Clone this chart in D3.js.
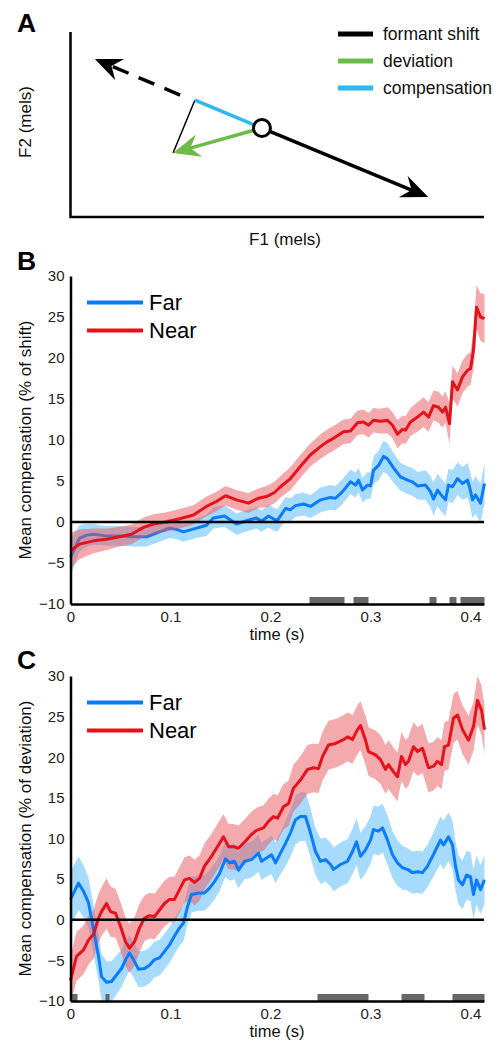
<!DOCTYPE html>
<html>
<head>
<meta charset="utf-8">
<script src="https://cdn.jsdelivr.net/npm/d3@7"></script>
<style>
  body { margin: 0; background: #fff; }
  svg { display: block; font-family: "Liberation Sans", Arial, sans-serif; }
</style>
</head>
<body>
<div id="chart"></div>
<script>
// ---- data ----
// panel A schematic points (F1, F2 in arbitrary mel units)
var vowelCenter = [46.3, 48.1];
var shiftTip = [86.5, 10.8];
var oppositeStart = [26.5, 65.9];
var oppositeTip = [5.9, 85.4];
var compEnd = [30.1, 63.2];
var devTip = [24.8, 34.6];
var legendA = ["formant shift", "deviation", "compensation"];

// [time (s), mean (%), sem]
var farB = [[0.000,-4.3,2.3],[0.005,-3.0,1.9],[0.009,-2.0,1.6],[0.016,-1.6,1.4],[0.023,-1.5,1.3],[0.030,-1.6,1.2],[0.036,-1.7,1.2],[0.049,-1.7,1.2],[0.063,-1.8,1.2],[0.076,-1.8,1.2],[0.089,-1.2,1.2],[0.099,-0.75,1.2],[0.106,-0.9,1.2],[0.113,-1.2,1.2],[0.126,-0.75,1.2],[0.136,-0.4,1.3],[0.143,0.5,1.3],[0.154,0.73,1.3],[0.166,-0.25,1.3],[0.176,0.15,1.3],[0.186,0.5,1.3],[0.191,0.1,1.3],[0.198,0.73,1.4],[0.204,0.3,1.4],[0.207,0.2,1.4],[0.215,1.65,1.4],[0.220,1.5,1.4],[0.225,2.0,1.4],[0.233,2.2,1.4],[0.240,1.9,1.4],[0.250,2.7,1.5],[0.260,3.0,1.5],[0.265,2.9,1.5],[0.272,3.7,1.5],[0.280,4.9,1.5],[0.285,4.5,1.5],[0.288,5.1,1.5],[0.292,3.9,1.5],[0.297,4.5,1.6],[0.300,4.4,1.6],[0.303,6.3,1.7],[0.308,6.9,1.8],[0.313,8.0,1.9],[0.317,7.7,1.9],[0.323,6.6,1.8],[0.330,5.5,1.7],[0.337,5.1,1.7],[0.342,4.9,1.7],[0.347,4.4,1.7],[0.355,4.5,1.8],[0.360,3.7,1.9],[0.363,2.8,2.0],[0.367,3.9,2.0],[0.370,3.4,2.0],[0.375,2.7,2.0],[0.378,4.5,2.0],[0.382,4.3,2.0],[0.387,5.3,2.0],[0.392,4.7,2.0],[0.397,5.1,2.1],[0.399,4.3,2.1],[0.402,2.7,2.2],[0.405,3.3,2.3],[0.410,2.3,2.4],[0.414,4.7,2.5]];
var nearB = [[0.000,-3.5,2.2],[0.009,-2.7,1.8],[0.023,-2.3,1.5],[0.036,-2.1,1.3],[0.049,-1.8,1.2],[0.061,-1.5,1.2],[0.073,-0.65,1.2],[0.083,-0.25,1.2],[0.096,0.0,1.2],[0.109,0.4,1.2],[0.123,0.85,1.2],[0.136,1.9,1.2],[0.146,2.5,1.2],[0.155,3.2,1.2],[0.166,2.7,1.2],[0.178,2.3,1.2],[0.188,2.9,1.2],[0.196,3.1,1.3],[0.204,3.6,1.3],[0.210,4.3,1.3],[0.220,5.3,1.4],[0.230,6.8,1.4],[0.240,8.2,1.4],[0.250,9.2,1.5],[0.257,9.8,1.5],[0.263,10.2,1.5],[0.273,11.0,1.5],[0.280,11.1,1.5],[0.287,12.1,1.5],[0.293,12.2,1.5],[0.298,11.8,1.5],[0.303,12.4,1.5],[0.310,12.3,1.5],[0.317,12.4,1.6],[0.322,11.8,1.6],[0.327,10.7,1.7],[0.332,11.3,1.7],[0.335,11.2,1.7],[0.340,12.2,1.7],[0.347,12.8,1.8],[0.353,13.4,1.8],[0.358,12.8,1.8],[0.363,14.2,1.8],[0.368,14.0,1.9],[0.372,13.4,1.9],[0.375,14.0,1.9],[0.379,12.0,2.5],[0.382,17.1,2.0],[0.387,16.1,2.0],[0.392,17.7,2.0],[0.397,18.5,2.0],[0.400,18.7,2.0],[0.403,21.0,2.3],[0.406,26.2,2.7],[0.410,25.0,2.9],[0.414,24.8,3.0]];
var farC = [[0.000,2.5,3.4],[0.008,4.5,3.3],[0.013,3.5,3.2],[0.018,2.1,3.1],[0.023,-1.2,3.0],[0.028,-4.5,2.9],[0.031,-7.0,2.8],[0.036,-7.7,2.6],[0.041,-7.6,2.5],[0.046,-6.8,2.4],[0.051,-6.0,2.3],[0.056,-4.7,2.2],[0.059,-4.1,2.2],[0.063,-4.9,2.2],[0.068,-6.1,2.2],[0.074,-6.0,2.2],[0.079,-5.6,2.2],[0.084,-4.9,2.2],[0.089,-4.7,2.2],[0.094,-3.9,2.2],[0.099,-3.1,2.2],[0.104,-2.0,2.2],[0.109,-1.0,2.2],[0.113,-0.4,2.2],[0.117,1.6,2.2],[0.121,3.1,2.2],[0.128,3.3,2.2],[0.134,3.3,2.2],[0.139,3.9,2.2],[0.144,4.7,2.2],[0.149,5.7,2.2],[0.155,7.5,2.2],[0.159,7.0,2.2],[0.164,7.2,2.2],[0.168,6.1,2.2],[0.174,7.2,2.2],[0.181,7.4,2.2],[0.188,8.2,2.3],[0.191,7.2,2.3],[0.196,7.6,2.3],[0.201,8.0,2.4],[0.205,7.0,2.5],[0.210,8.2,2.6],[0.215,9.4,2.8],[0.220,10.7,2.9],[0.225,12.3,3.0],[0.230,12.7,3.0],[0.235,12.7,3.0],[0.240,10.7,3.0],[0.245,8.4,2.9],[0.250,7.2,2.8],[0.255,7.4,2.7],[0.260,6.8,2.7],[0.263,6.2,2.7],[0.270,6.8,2.7],[0.277,7.2,2.7],[0.282,8.4,2.8],[0.286,9.6,2.9],[0.290,7.8,2.9],[0.295,8.6,2.9],[0.300,9.8,2.9],[0.303,11.1,3.0],[0.308,10.9,3.0],[0.312,11.3,3.0],[0.317,9.8,3.0],[0.322,8.0,2.9],[0.327,7.0,2.8],[0.332,6.4,2.7],[0.337,6.2,2.6],[0.342,5.8,2.6],[0.347,5.9,2.6],[0.352,5.8,2.6],[0.357,6.6,2.6],[0.362,7.8,2.7],[0.366,8.8,2.8],[0.370,9.8,2.9],[0.373,9.2,3.0],[0.378,10.2,3.0],[0.382,9.2,3.0],[0.385,6.6,3.0],[0.388,4.9,3.0],[0.392,4.3,3.0],[0.396,5.5,3.0],[0.400,5.3,3.0],[0.403,3.1,3.0],[0.406,4.9,3.0],[0.410,3.7,3.0],[0.414,4.9,3.0]];
var nearC = [[0.000,-7.5,3.0],[0.006,-4.5,3.0],[0.013,-3.7,3.0],[0.018,-2.5,3.0],[0.023,-1.8,3.0],[0.028,0.2,3.0],[0.031,1.0,3.0],[0.036,2.0,3.1],[0.040,1.0,3.1],[0.045,0.8,3.0],[0.050,-0.8,3.0],[0.055,-2.7,3.0],[0.059,-3.5,3.0],[0.064,-2.7,3.0],[0.069,-1.0,3.0],[0.074,0.2,2.8],[0.079,0.5,2.8],[0.084,0.4,2.8],[0.089,1.2,2.8],[0.094,2.0,2.8],[0.099,2.5,2.8],[0.104,2.5,2.8],[0.109,3.7,2.8],[0.114,4.9,2.8],[0.119,5.1,2.8],[0.124,4.6,2.8],[0.129,5.1,2.8],[0.134,6.6,2.8],[0.141,7.8,2.8],[0.146,8.8,2.8],[0.153,10.2,2.8],[0.158,9.0,2.8],[0.163,9.0,2.8],[0.168,8.8,2.8],[0.175,9.7,2.8],[0.181,10.5,2.8],[0.186,11.0,2.8],[0.193,11.3,2.8],[0.198,12.1,2.8],[0.203,12.7,2.8],[0.207,12.5,2.8],[0.213,13.9,2.8],[0.218,14.3,2.8],[0.223,16.2,2.9],[0.230,17.2,2.9],[0.237,18.5,3.0],[0.243,18.7,3.0],[0.248,18.6,3.0],[0.252,20.1,3.0],[0.258,21.5,3.0],[0.265,21.7,3.0],[0.272,22.1,3.0],[0.277,22.5,3.0],[0.282,22.2,3.0],[0.287,23.4,3.0],[0.290,23.9,3.0],[0.295,22.1,3.0],[0.298,20.7,3.0],[0.305,20.3,3.0],[0.310,19.7,3.0],[0.315,18.5,3.0],[0.318,19.1,3.0],[0.323,18.2,3.0],[0.327,17.6,3.0],[0.331,20.1,3.0],[0.335,19.1,3.0],[0.338,19.5,3.0],[0.343,21.3,3.0],[0.347,20.7,3.0],[0.352,21.1,3.0],[0.358,18.7,3.0],[0.363,18.9,3.0],[0.367,19.5,3.0],[0.371,19.1,3.0],[0.374,21.3,3.0],[0.378,21.5,3.0],[0.383,24.8,3.0],[0.387,25.2,3.0],[0.392,23.4,3.0],[0.398,22.1,3.0],[0.403,23.8,3.0],[0.407,27.0,3.0],[0.411,25.8,3.0],[0.414,23.4,3.0]];

// significant differences, [start, end] in s
var sigB = [[0.239,0.274],[0.283,0.298],[0.359,0.366],[0.379,0.386],[0.390,0.414]];
var sigC = [[0.000,0.007],[0.035,0.039],[0.247,0.298],[0.331,0.354],[0.382,0.414]];

var yTicks = [-10, -5, 0, 5, 10, 15, 20, 25, 30];
var xTicks = [0, 0.1, 0.2, 0.3, 0.4];
var seriesNames = ["Far", "Near"];

// ---- styles ----
var farColor = "#0a7bff", farBand = "#a7dbfd";
var nearColor = "#e5121c", nearBand = "#e9555a";
var colorA = ["#000", "#6cbb46", "#2bb8f4"];
var W = 502, H = 1043;
var left = 70.5, right = 484;

var svg = d3.select("#chart").append("svg")
    .attr("width", W).attr("height", H);

function panelLetter(t, y) {
    svg.append("text").attr("x", 17).attr("y", y)
        .attr("font-size", 26.5).attr("font-weight", "bold").text(t);
}

// ---------------- panel A ----------------
panelLetter("A", 32);
var ax = d3.scaleLinear().domain([0, 100]).range([left, right]);
var ay = d3.scaleLinear().domain([0, 100]).range([217, 32]);

var gA = svg.append("g");
gA.append("path").attr("d", d3.line()([[ax(0), ay(100)], [ax(0), ay(0)], [ax(100), ay(0)]]))
    .attr("fill", "none").attr("stroke", "#000").attr("stroke-width", 2.5);

var P = function (p) { return [ax(p[0]), ay(p[1])]; };

// draw an arrow from a to b (pixel coords) with stealth head
function arrow(a, b, color, width, dash) {
    var dx = b[0] - a[0], dy = b[1] - a[1];
    var len = Math.sqrt(dx * dx + dy * dy);
    var ux = dx / len, uy = dy / len;
    var back = [b[0] - ux * 16, b[1] - uy * 16];
    gA.append("line")
        .attr("x1", a[0]).attr("y1", a[1]).attr("x2", back[0]).attr("y2", back[1])
        .attr("stroke", color).attr("stroke-width", width)
        .attr("stroke-dasharray", dash || null);
    var ang = Math.atan2(dy, dx) * 180 / Math.PI;
    gA.append("path")
        .attr("d", "M0,0 L-27,-11.5 L-18,0 L-27,11.5 Z")
        .attr("fill", color)
        .attr("transform", "translate(" + b[0] + "," + b[1] + ") rotate(" + ang + ")");
}

arrow(P(oppositeStart), P(oppositeTip), "#000", 3.5, "17,11");
gA.append("line")
    .attr("x1", P(compEnd)[0]).attr("y1", P(compEnd)[1])
    .attr("x2", P(devTip)[0]).attr("y2", P(devTip)[1])
    .attr("stroke", "#000").attr("stroke-width", 1.5);
gA.append("line")
    .attr("x1", P(vowelCenter)[0]).attr("y1", P(vowelCenter)[1])
    .attr("x2", P(compEnd)[0]).attr("y2", P(compEnd)[1])
    .attr("stroke", colorA[2]).attr("stroke-width", 3.5);
arrow(P(vowelCenter), P(devTip), colorA[1], 3.5);
arrow(P(vowelCenter), P(shiftTip), "#000", 3.5);
gA.append("circle").attr("cx", P(vowelCenter)[0]).attr("cy", P(vowelCenter)[1])
    .attr("r", 8.5).attr("fill", "#fff").attr("stroke", "#000").attr("stroke-width", 3);

legendA.forEach(function (name, i) {
    var y = 34 + i * 27;
    gA.append("line").attr("x1", 338).attr("x2", 373).attr("y1", y).attr("y2", y)
        .attr("stroke", colorA[i]).attr("stroke-width", 5);
    gA.append("text").attr("x", 383).attr("y", y + 6).attr("font-size", 17.5)
        .attr("fill", "#111").text(name);
});
gA.append("text").attr("x", 285).attr("y", 245).attr("text-anchor", "middle")
    .attr("font-size", 17).attr("fill", "#111").text("F1 (mels)");
gA.append("text").attr("transform", "translate(31,122) rotate(-90)")
    .attr("text-anchor", "middle").attr("font-size", 17).attr("fill", "#111").text("F2 (mels)");

// ---------------- panels B and C ----------------
var x = d3.scaleLinear().domain([0, 0.4135]).range([left, right]);

function timePanel(opts) {
    var y = d3.scaleLinear().domain([-10, 30]).range([opts.bottom, opts.top]);
    var g = svg.append("g");

    var area = d3.area()
        .x(function (d) { return x(d[0]); })
        .y0(function (d) { return y(d[1] - d[2]); })
        .y1(function (d) { return y(d[1] + d[2]); });
    var line = d3.line()
        .x(function (d) { return x(d[0]); })
        .y(function (d) { return y(d[1]); });

    function drawLine(data, color) {
        g.append("path").datum(data).attr("d", line).attr("fill", "none")
            .attr("stroke", color).attr("stroke-width", 3).attr("stroke-linejoin", "round");
    }

    g.append("path").datum(opts.far).attr("d", area).attr("fill", farBand);
    if (opts.farLineUnder) drawLine(opts.far, farColor);
    g.append("path").datum(opts.near).attr("d", area).attr("fill", nearBand)
        .attr("fill-opacity", 0.5);
    if (!opts.farLineUnder) drawLine(opts.far, farColor);
    drawLine(opts.near, nearColor);

    // zero line
    g.append("line").attr("x1", left).attr("x2", right).attr("y1", y(0)).attr("y2", y(0))
        .attr("stroke", "#000").attr("stroke-width", 2.5);

    // significance bars
    g.selectAll("rect.sig").data(opts.sig).enter().append("rect")
        .attr("class", "sig")
        .attr("x", function (d) { return x(d[0]); })
        .attr("width", function (d) { return x(d[1]) - x(d[0]); })
        .attr("y", y(-10) - 7).attr("height", 7)
        .attr("fill", "#666");

    var axisL = d3.axisLeft(y).tickValues(yTicks).tickSize(0).tickPadding(6).tickSizeOuter(0);
    var gl = g.append("g").attr("transform", "translate(" + left + ",0)").call(axisL);
    var axisB = d3.axisBottom(x).tickValues(xTicks).tickSize(0).tickPadding(7).tickSizeOuter(0)
        .tickFormat(d3.format("~g"));
    var gb = g.append("g").attr("transform", "translate(0," + y(-10) + ")").call(axisB);
    [gl, gb].forEach(function (a) {
        a.select(".domain").attr("stroke", "#000").attr("stroke-width", 2.5);
        a.selectAll("text").attr("font-size", 15).attr("fill", "#222")
            .attr("font-family", "Liberation Sans, Arial, sans-serif");
    });

    // legend
    [[farColor, seriesNames[0]], [nearColor, seriesNames[1]]].forEach(function (s, i) {
        var ly = opts.top + 26.5 + i * 28;
        g.append("line").attr("x1", 87).attr("x2", 143).attr("y1", ly).attr("y2", ly)
            .attr("stroke", s[0]).attr("stroke-width", 4);
        g.append("text").attr("x", 149).attr("y", ly + 7.5).attr("font-size", 22)
            .attr("fill", "#000").text(s[1]);
    });

    g.append("text").attr("x", 277).attr("y", y(-10) + 36).attr("text-anchor", "middle")
        .attr("font-size", 16.5).attr("fill", "#111").text("time (s)");
    g.append("text")
        .attr("transform", "translate(31," + ((opts.top + opts.bottom) / 2) + ") rotate(-90)")
        .attr("text-anchor", "middle").attr("font-size", 17).attr("fill", "#111")
        .text(opts.ylabel);
}

panelLetter("B", 270);
timePanel({ top: 276, bottom: 604, far: farB, near: nearB, sig: sigB, farLineUnder: true,
    ylabel: "Mean compensation (% of shift)" });

panelLetter("C", 669);
timePanel({ top: 676, bottom: 1001, far: farC, near: nearC, sig: sigC, farLineUnder: false,
    ylabel: "Mean compensation (% of deviation)" });
</script>
</body>
</html>
